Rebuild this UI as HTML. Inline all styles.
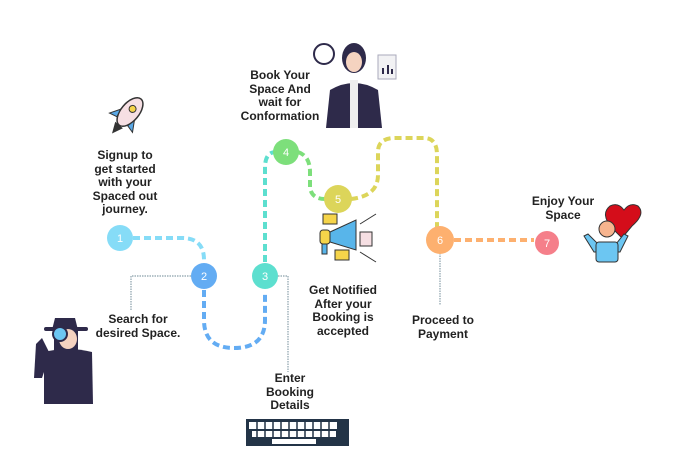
<!DOCTYPE html>
<html><head><meta charset="utf-8"><style>
body{margin:0;background:#fff;width:678px;height:471px;overflow:hidden;position:relative;font-family:"Liberation Sans",sans-serif}
.t{position:absolute;font-size:12px;font-weight:bold;line-height:13.5px;color:#222;text-align:center;white-space:nowrap;transform:translateX(-50%)}
</style></head><body>
<svg width="678" height="471" style="position:absolute;left:0;top:0">
<g fill="none" stroke-width="4" stroke-dasharray="7,4" stroke-linecap="butt">
<path d="M133 238 H182 Q204 238 204 260" stroke="#86dcf7"/>
<path d="M204 290 V320 Q204 348 234 348 Q265 348 265 320 V292" stroke="#63acf3"/>
<path d="M265 262 V168 Q265 152 276 152" stroke="#5ddfcf"/>
<path d="M298 152 Q310 156 310 172 V188 Q312 199 325 199" stroke="#7ddf7b"/>
<path d="M351 199 Q378 196 378 175 V152 Q378 138 395 138 H424 Q437 138 437 155 V227" stroke="#dcd55a"/>
<path d="M454 240 H534" stroke="#fdb06f"/>
</g>
<g fill="none" stroke="#8aa0aa" stroke-width="1.2" stroke-dasharray="1.5,1">
<path d="M191 276 H131 V310"/><path d="M278 276 H288 V372"/><path d="M440 253 V305"/>
</g>
<g font-family="Liberation Sans" font-size="11" fill="#fff" text-anchor="middle">
<circle cx="120" cy="238" r="13" fill="#86dcf7"/><text x="120" y="242">1</text>
<circle cx="204" cy="276" r="13" fill="#63acf3"/><text x="204" y="280">2</text>
<circle cx="265" cy="276" r="13" fill="#5ddfcf"/><text x="265" y="280">3</text>
<circle cx="286" cy="152" r="13" fill="#7ddf7b"/><text x="286" y="156">4</text>
<circle cx="338" cy="199" r="14" fill="#dcd55a"/><text x="338" y="203">5</text>
<circle cx="440" cy="240" r="14" fill="#fdb06f"/><text x="440" y="244">6</text>
<circle cx="547" cy="243" r="12" fill="#f57f8a"/><text x="547" y="247">7</text>
</g>
<!-- rocket -->
<g transform="translate(130,112) rotate(40)">
<ellipse cx="0" cy="0" rx="9" ry="17" fill="#f6dfe3" stroke="#333" stroke-width="1.5"/>
<circle cx="0" cy="-4" r="3.5" fill="#f5d44a" stroke="#333"/>
<path d="M-9 4 L-15 14 L-7 12 Z M9 4 L15 14 L7 12Z" fill="#5aa8e6" stroke="#333"/>
<path d="M-5 17 L0 28 L5 17Z" fill="#333"/>
</g>
<!-- detective -->
<g>
<path d="M55 318 h20 l3 12 h-26z" fill="#2e2a4a"/><rect x="44" y="327" width="44" height="4" rx="2" fill="#2e2a4a"/>
<path d="M54 331 h24 v30 h-24z" fill="#2e2a4a"/><ellipse cx="68" cy="339" rx="9" ry="10" fill="#f5d3c0"/>
<path d="M44 352 Q68 346 92 352 L93 404 H44Z" fill="#2e2a4a"/>
<path d="M36 344 l6 -6 l8 16 l-8 24 h-8z" fill="#2e2a4a"/>
<circle cx="60" cy="334" r="7" fill="#6cc6f2" stroke="#2e2a4a" stroke-width="2"/>
</g>
<!-- woman -->
<g>
<circle cx="324" cy="54" r="10" fill="#fff" stroke="#2e2a4a" stroke-width="2"/>
<ellipse cx="354" cy="58" rx="12" ry="15" fill="#2e2a4a"/><ellipse cx="354" cy="62" rx="8" ry="10" fill="#f5d3c0"/>
<path d="M330 90 Q354 76 378 90 L382 128 H326Z" fill="#2e2a4a"/><rect x="350" y="80" width="8" height="48" fill="#eee"/>
<rect x="378" y="55" width="18" height="24" fill="#f2f2f4" stroke="#aab"/>
<path d="M383 74v-6M388 74v-9M392 74v-5" stroke="#2e2a4a" stroke-width="2"/>
</g>
<!-- megaphone -->
<g>
<rect x="323" y="214" width="14" height="10" fill="#f5d44a" stroke="#333"/>
<rect x="335" y="250" width="14" height="10" fill="#f5d44a" stroke="#333"/>
<path d="M330 232 L356 220 V250 L330 242Z" fill="#58b5ea" stroke="#333"/>
<rect x="320" y="230" width="10" height="14" rx="3" fill="#f5d44a" stroke="#333"/>
<rect x="322" y="244" width="5" height="10" fill="#58b5ea" stroke="#333"/>
<rect x="360" y="232" width="12" height="14" fill="#f6dfe3" stroke="#333"/>
<path d="M360 224 L376 214 M360 252 L376 262" stroke="#333"/>
</g>
<!-- person w heart -->
<g>
<path d="M612 228 Q600 214 610 206 Q618 202 624 210 Q630 202 638 206 Q646 214 632 226 L622 238Z" fill="#d40d1a" stroke="#333"/>
<circle cx="607" cy="229" r="8" fill="#f7b48e" stroke="#333"/>
<path d="M584 236 L594 252 H620 L628 236 L624 234 L616 244 H598 L588 234Z" fill="#6cc6f2" stroke="#333"/>
<rect x="596" y="242" width="22" height="20" rx="3" fill="#6cc6f2" stroke="#333"/>
</g>
<!-- keyboard -->
<rect x="246" y="419" width="103" height="27" fill="#233447"/>
<g fill="#fff">
<rect x="249" y="422" width="88" height="7"/><rect x="252" y="431" width="84" height="6"/><rect x="272" y="439" width="44" height="5"/>
</g>
<g stroke="#233447" stroke-width="1.5"><path d="M257 422v15M265 422v15M273 422v15M281 422v15M289 422v15M297 422v15M305 422v15M313 422v15M321 422v15M329 422v15"/></g>
</svg>
<div class="t" style="left:125px;top:149px">Signup to<br>get started<br>with your<br>Spaced out<br>journey.</div>
<div class="t" style="left:138px;top:313px">Search for<br>desired Space.</div>
<div class="t" style="left:290px;top:372px">Enter<br>Booking<br>Details</div>
<div class="t" style="left:343px;top:284px">Get Notified<br>After your<br>Booking is<br>accepted</div>
<div class="t" style="left:443px;top:314px">Proceed to<br>Payment</div>
<div class="t" style="left:280px;top:69px">Book Your<br>Space And<br>wait for<br>Conformation</div>
<div class="t" style="left:563px;top:195px">Enjoy Your<br>Space</div>
</body></html>
